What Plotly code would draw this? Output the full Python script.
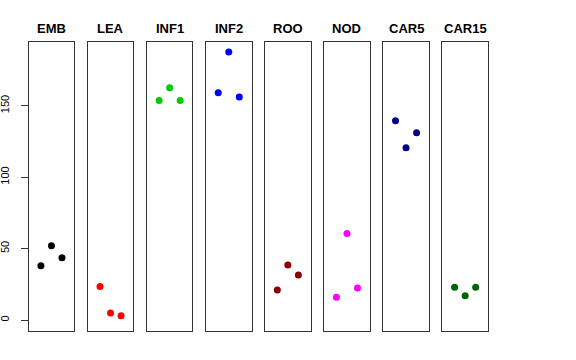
import plotly.graph_objects as go

tissues = ["EMB", "LEA", "INF1", "INF2", "ROO", "NOD", "CAR5", "CAR15"]
colors = ["#000000", "#FF0000", "#00CD00", "#0000FF", "#8B0000", "#FF00FF", "#00008B", "#006400"]
rep_x = [1, 2, 3]
values = [
    [38, 52, 43.5],
    [23.5, 5, 3],
    [153.5, 162.5, 153.5],
    [159, 187.5, 156],
    [21, 38.5, 31.5],
    [16, 60.5, 22.5],
    [139.5, 120.5, 131],
    [23, 17, 23],
]
y_ticks = [0, 50, 100, 150]

W, H = 576, 360
fig = go.Figure()
left0, pw, step = 28.7, 45.5, 59.1
top_px, bot_px = 42, 330.5
title_px = 28.5

for i, (name, col, vals) in enumerate(zip(tissues, colors, values)):
    n = i + 1
    xa = "x" if n == 1 else f"x{n}"
    ya = "y" if n == 1 else f"y{n}"
    fig.add_trace(go.Scatter(x=rep_x, y=vals, mode="markers",
                             marker=dict(color=col, size=7, line=dict(width=0)),
                             xaxis=xa, yaxis=ya, showlegend=False, hoverinfo="skip"))
    x0 = (left0 + step * i) / W
    x1 = (left0 + step * i + pw) / W
    xkey = "xaxis" if n == 1 else f"xaxis{n}"
    ykey = "yaxis" if n == 1 else f"yaxis{n}"
    fig.update_layout(**{
        xkey: dict(domain=[x0, x1], range=[-0.16, 4.16], showgrid=False, zeroline=False,
                   showticklabels=False, ticks="", showline=True, mirror=True,
                   linecolor="#333333", linewidth=1, anchor=ya, fixedrange=True,
                   automargin=False),
        ykey: dict(domain=[(H - bot_px) / H, (H - top_px) / H], range=[-7.3, 194.5],
                   showgrid=False, zeroline=False, showline=True, mirror=True,
                   linecolor="#333333", linewidth=1, anchor=xa, automargin=False,
                   tickmode="array", tickvals=y_ticks if n == 1 else [],
                   ticks="outside" if n == 1 else "", ticklen=7, tickcolor="#333333",
                   showticklabels=(n == 1), tickangle=-90, ticklabelstandoff=7,
                   fixedrange=True,
                   tickfont=dict(family="Liberation Sans, Arial, sans-serif", size=11, color="black")),
    })
    fig.add_annotation(text=f"<b>{name}</b>", x=(x0 + x1) / 2, y=(H - title_px) / H,
                       xref="paper", yref="paper", showarrow=False,
                       font=dict(family="Liberation Sans, Arial, sans-serif", size=13, color="black"),
                       xanchor="center", yanchor="middle")

fig.update_layout(width=W, height=H, margin=dict(l=0, r=0, t=0, b=0, autoexpand=False),
                  paper_bgcolor="white", plot_bgcolor="white")
fig.write_html("out.html", config={"displayModeBar": False, "staticPlot": True},
               post_script="document.body.style.margin='0';document.body.style.overflow='hidden';")
